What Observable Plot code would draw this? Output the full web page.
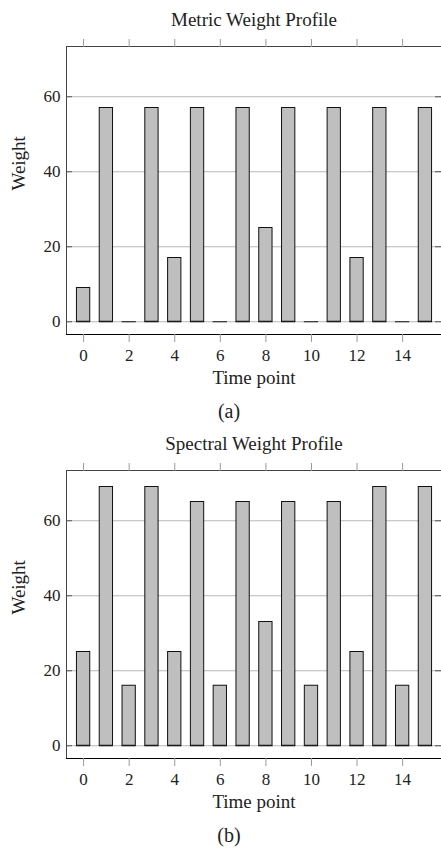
<!DOCTYPE html>
<html>
<head>
<meta charset="utf-8">
<script src="https://cdn.jsdelivr.net/npm/d3@7"></script>
<script src="https://cdn.jsdelivr.net/npm/@observablehq/plot@0.6"></script>
<style>
  body { margin: 0; background: #fff; }
  #charts svg { display: block; }
</style>
</head>
<body>
<div id="charts"></div>
<script>
const timePoints = [0,1,2,3,4,5,6,7,8,9,10,11,12,13,14,15];
const metricWeights = [9,57,0,57,17,57,0,57,25,57,0,57,17,57,0,57];
const spectralWeights = [25,69,16,69,25,65,16,65,33,65,16,65,25,69,16,69];
const xTicks = [0,2,4,6,8,10,12,14];
const yTicks = [0,20,40,60];
const xDomain = [-0.75, 15.75];
const yDomain = [-3.4, 73.4];

const FONT = "'Liberation Serif', 'Times New Roman', serif";
const INK = "#222";

function chart(values, title, caption) {
  const data = timePoints.map((t, i) => ({t, w: values[i]}));
  const inset = 4.75;
  const x1 = d => d.t - 0.5, x2 = d => d.t + 0.5;
  return Plot.plot({
    width: 441,
    height: 424,
    marginTop: 46,
    marginBottom: 90,
    marginLeft: 66,
    marginRight: 0,
    style: {fontFamily: FONT, color: INK, background: "#fff", overflow: "visible"},
    x: {domain: xDomain, range: [66, 442]},
    y: {domain: yDomain},
    marks: [
      Plot.gridY(yTicks, {stroke: "#b8b8b8", strokeOpacity: 1}),
      Plot.tickY(yTicks, {stroke: "#555", insetRight: 369}),
      Plot.tickY(yTicks, {stroke: "#555", insetLeft: 369}),
      Plot.rect(data, {x1, x2, y1: 0, y2: "w", insetLeft: inset, insetRight: inset,
        fill: "#bfbfbf", stroke: "#111", strokeWidth: 1}),
      Plot.ruleY(data, {y: 0, x1, x2, insetLeft: inset - 0.5, insetRight: inset - 0.5, stroke: "#111", strokeWidth: 1}),
      Plot.frame({stroke: "#444", strokeWidth: 1}),
      Plot.ruleY([yDomain[0]], {stroke: "#000", strokeWidth: 1.2}),
      Plot.axisX({ticks: xTicks, anchor: "bottom", tickSize: 8, tickPadding: 6,
        stroke: "#999", fill: INK, fontSize: 17, label: null}),
      Plot.axisX({ticks: xTicks, anchor: "top", tickSize: 8,
        stroke: "#999", fill: "none", label: null}),
      Plot.axisY({ticks: yTicks, anchor: "left", tickSize: 0, tickPadding: 6,
        fill: INK, fontSize: 17, label: null}),
      Plot.text([title], {frameAnchor: "top", dy: -27, lineAnchor: "middle",
        fontSize: 19, fill: INK}),
      Plot.text(["Time point"], {frameAnchor: "bottom", dy: 43, lineAnchor: "middle",
        fontSize: 19, fill: INK}),
      Plot.text(["Weight"], {frameAnchor: "left", dx: -48, rotate: -90, lineAnchor: "middle",
        fontSize: 19, fill: INK}),
      Plot.text([caption], {frameAnchor: "bottom", dx: -25, dy: 77, lineAnchor: "middle",
        fontSize: 20, fill: INK})
    ]
  });
}

const root = document.getElementById("charts");
root.appendChild(chart(metricWeights, "Metric Weight Profile", "(a)"));
root.appendChild(chart(spectralWeights, "Spectral Weight Profile", "(b)"));
</script>
</body>
</html>
